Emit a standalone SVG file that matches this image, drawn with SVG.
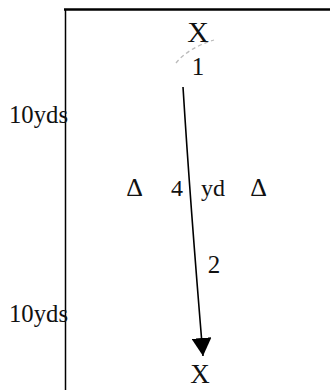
<svg xmlns="http://www.w3.org/2000/svg" width="330" height="390" viewBox="0 0 330 390">
<style>
text{font-family:"Liberation Serif","DejaVu Serif",serif;fill:#111}
.big{font-size:30px}
.lbl{font-size:25px}
.mid{font-size:24px}
.tri{font-size:26px}
.frame{stroke:#000;fill:none}
</style>
<defs>
<marker id="ah2" viewBox="0 0 18 20" refX="18" refY="10" markerWidth="18" markerHeight="20" markerUnits="userSpaceOnUse" orient="auto">
<path d="M0,0 L18,10 L0,20 Z" fill="#000"/>
</marker>
</defs>
<rect width="330" height="390" fill="#fff"/>
<g id="frame">
<line class="frame" x1="64" y1="9.5" x2="330" y2="9.5" stroke-width="2.5"/>
<line class="frame" x1="65.5" y1="9" x2="65.5" y2="390" stroke-width="1.5"/>
</g>
<g id="connectors">
<path d="M183,87 Q190,200 203,356" stroke="#000" stroke-width="1.6" fill="none" marker-end="url(#ah2)"/>
<path d="M176,63 Q188,48 214,40" stroke="#bbb" stroke-width="1.3" stroke-dasharray="4,3" fill="none"/>
</g>
<g id="start-x"><text class="big" x="198" y="42" text-anchor="middle">X</text></g>
<g id="label-1"><text class="lbl" x="198" y="75" text-anchor="middle">1</text></g>
<g id="label-2"><text class="lbl" x="214" y="273" text-anchor="middle">2</text></g>
<g id="end-x"><text x="200" y="383" text-anchor="middle" font-size="27">X</text></g>
<g id="dist-top"><text class="lbl" x="9" y="123" textLength="59" lengthAdjust="spacingAndGlyphs">10yds</text></g>
<g id="dist-bottom"><text class="lbl" x="9" y="322" textLength="59" lengthAdjust="spacingAndGlyphs">10yds</text></g>
<g id="cones">
<text class="tri" x="134.5" y="196" text-anchor="middle">Δ</text>
<text class="mid" x="177" y="196" text-anchor="middle">4</text>
<text class="mid" x="213" y="196" text-anchor="middle">yd</text>
<text class="tri" x="258.5" y="196" text-anchor="middle">Δ</text>
</g>
</svg>
